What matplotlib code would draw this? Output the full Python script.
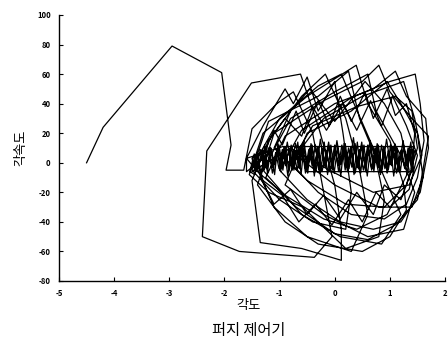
import matplotlib
matplotlib.use("Agg")
import matplotlib.pyplot as plt

plt.rcParams['font.family'] = ['Noto Sans CJK KR', 'DejaVu Sans']

# Transient from the initial state
angle_transient = [-4.5, -4.2, -2.95, -2.05, -1.88, -1.97, -1.65, -1.5, -1.05, -0.75, -0.4, -0.2,
                   -0.05, -0.37, -1.73, -2.4, -2.32, -1.51, -0.62, -0.3, 0.0, 0.12, 0.12, -0.6,
                   -1.35, -1.5, -1.2, -0.6, -0.17, 0.2, 0.45, 0.6, 0.3, -0.5, -1.1, -1.45]
rate_transient = [0, 24, 79, 61, 12, -5, -5, 23, 40, 48, 20, -20,
                  -50, -64, -60, -50, 8, 54, 60, 25, -15, -45, -66, -58,
                  -54, -12, 15, 45, 60, 30, -5, -35, -60, -50, -30, 0]

# Large limit-cycle-like loops
angle_loops = [-1.0, -0.3, 0.12, 0.35, 0.7, 0.9, 0.8, 0.2, -0.58, -1.2, -1.55, -1.3, -0.5, 0.39,
               0.6, 1.0, 1.25, 1.3, 1.0, 0.5, -0.3, -0.9, -1.4, -1.1, -0.2, 0.5, 0.8, 1.0,
               1.4, 1.7, 1.6, 1.5, 1.1, 0.6, 0.0, -0.7, -1.25, -0.9, 0.0, 0.7, 1.1, 1.3,
               1.65, 1.7, 1.55, 1.2, 0.7, 0.1, -0.5, -1.0, -0.6, 0.3, 1.0, 1.46, 1.55, 1.62,
               1.5, 1.3, 0.9, 0.3, -0.3, -0.8, -0.4, 0.4, 1.1, 1.4, 1.5, 1.3, 0.9, 0.2,
               -0.5, -1.1, -0.8, -0.45, 0.0, 0.55, 0.9, 1.2, 1.35, 0.95, 0.4, -0.2, -0.9, -1.4,
               -1.6, -1.3, -0.9, -0.75, -0.5, -0.3, 0.0, 0.15, 0.3, 0.2, -0.4, -1.0, -1.5, -1.2,
               -0.3, 0.25, 0.45, 0.9, 1.2, 0.85, 0.1, -0.6, -1.3, -0.8, 0.0, 0.6, 0.75, 1.2,
               1.45, 1.25, 0.6, -0.2, -0.9, -0.5, 0.3, 0.95, 1.2, 1.5, 1.6, 1.4, 0.8, 0.0,
               -0.7, -0.2, 0.5, 1.25, 1.45, 1.58, 1.35, 0.7, -0.1, -0.8, -1.5]
rate_loops = [30, 52, 60, 40, 10, -25, -50, -58, -30, -20, -8, 20, 45, 66,
              40, 15, -15, -32, -50, -60, -55, -40, -15, 20, 42, 55, 66, 48,
              30, 18, -5, -25, -42, -52, -48, -30, -10, 18, 40, 50, 62, 45,
              30, 10, -20, -40, -45, -40, -25, -5, 22, 44, 55, 60, 40, 15,
              -10, -28, -38, -35, -20, 0, 25, 38, 45, 35, 10, -15, -30, -28,
              -12, 10, 35, 50, 28, 55, 40, 20, -5, -35, -45, -38, -22, -6,
              3, 25, 50, 40, 58, 35, 55, 20, -20, -45, -40, -25, -5, 28,
              45, 62, 30, -10, -35, -55, -50, -35, -5, 30, 48, 60, 35, 5,
              -20, -45, -50, -35, -15, 20, 35, 55, 40, 20, -10, -30, -30, -15,
              5, 30, 45, 55, 30, 5, -15, -20, -5, 10, -6]

# Medium jagged loops
angle_mid = [-1.4, -1.1, -0.95, -0.7, -0.55, -0.3, -0.1, 0.1, 0.3, 0.55, 0.7, 0.95, 1.1, 1.3,
             1.45, 1.4, 1.2, 0.9, 0.7, 0.4, 0.1, -0.2, -0.5, -0.8, -1.1, -1.35, -1.2, -0.9,
             -0.6, -0.4, -0.15, 0.15, 0.4, 0.65, 0.85, 1.05, 1.3, 1.5, 1.35, 1.0, 0.75, 0.5,
             0.25, -0.05, -0.35, -0.65, -0.95, -1.3, -1.45]
rate_mid = [-3, 22, 12, 35, 20, 42, 25, 45, 28, 48, 30, 50, 32, 40,
            20, -5, -25, -15, -35, -20, -38, -22, -35, -18, -28, -10, 15, 30,
            18, 38, 22, 40, 22, 42, 25, 45, 25, 5, -18, -30, -20, -40,
            -25, -42, -28, -40, -22, -12, 5]

# Dense chattering band around the origin
angle_core = [-1.50, -1.43, -1.35, -1.28, -1.20, -1.13, -1.05, -0.98, -0.90, -0.83,
              -0.75, -0.68, -0.60, -0.53, -0.45, -0.38, -0.30, -0.23, -0.15, -0.08,
              0.00, 0.07, 0.15, 0.22, 0.30, 0.37, 0.45, 0.52, 0.60, 0.67,
              0.75, 0.82, 0.90, 0.97, 1.05, 1.12, 1.20, 1.27, 1.35, 1.42,
              1.38, 1.31, 1.24, 1.16, 1.09, 1.01, 0.94, 0.86, 0.79, 0.71,
              0.64, 0.56, 0.49, 0.41, 0.34, 0.26, 0.19, 0.11, 0.04, -0.04,
              -0.11, -0.19, -0.26, -0.34, -0.41, -0.49, -0.56, -0.64, -0.71, -0.79,
              -0.86, -0.94, -1.01, -1.09, -1.16, -1.24, -1.31, -1.39, -1.46, -1.54,
              -1.45, -1.40, -1.33, -1.27, -1.22, -1.16, -1.09, -1.03, -0.98, -0.92,
              -0.85, -0.79, -0.74, -0.67, -0.61, -0.56, -0.49, -0.43, -0.37, -0.31,
              -0.25, -0.19, -0.13, -0.07, -0.01, 0.05, 0.11, 0.17, 0.23, 0.29,
              0.35, 0.41, 0.47, 0.53, 0.59, 0.65, 0.71, 0.77, 0.83, 0.89,
              0.95, 1.01, 1.07, 1.13, 1.19, 1.25, 1.31, 1.37,
              1.45, 1.39, 1.33, 1.27, 1.21, 1.15, 1.09, 1.03, 0.97, 0.91,
              0.85, 0.79, 0.73, 0.67, 0.61, 0.55, 0.49, 0.43, 0.37, 0.31,
              0.25, 0.19, 0.13, 0.07, 0.01, -0.05, -0.11, -0.17, -0.23, -0.29,
              -0.35, -0.41, -0.47, -0.53, -0.59, -0.65, -0.71, -0.77, -0.83, -0.89,
              -0.95, -1.01, -1.07, -1.13, -1.19,
              -1.6, -1.6, -0.94, 1.42, 1.42, -0.5]
rate_core = [3, -6, 9, -5, 10, -7, 8, -4, 11, -6,
             9, -5, 12, -7, 10, -4, 11, -6, 8, -5,
             12, -6, 10, -3, 11, -7, 9, -5, 12, -4,
             10, -6, 9, -5, 11, -7, 8, -4, 10, -6,
             14, -2, 15, -4, 13, -1, 16, -5, 12, -2,
             15, -6, 14, -3, 17, -4, 13, -1, 15, -5,
             14, -2, 16, -6, 12, -3, 15, -4, 13, -2,
             14, -5, 12, -1, 10, -4, 9, -3, 6, -6,
             -8, 7, -9, 12, -7, 10, -8, 13, -6, 11,
             -9, 12, -5, 14, -8, 10, -7, 13, -9, 11,
             -6, 14, -8, 12, -7, 10, -9, 13, -6, 11,
             -8, 14, -7, 12, -9, 10, -6, 13, -8, 11,
             -7, 12, -9, 10, -6, 11, -8, 9,
             8, -4, 10, -3, 9, -5, 11, -2, 8, -4,
             12, -3, 10, -5, 9, -2, 11, -4, 13, -3,
             10, -5, 12, -2, 9, -4, 11, -3, 10, -5,
             12, -2, 9, -4, 11, -3, 8, -5, 10, -2,
             9, -4, 7, -3, 6,
             -6, 3, 11, 11, -6, -6]

x_ticks = [-5, -4, -3, -2, -1, 0, 1, 2]
x_tick_labels = ['-5', '-4', '-3', '-2', '-1', '0', '1', '2']
y_ticks = [-80, -60, -40, -20, 0, 20, 40, 60, 80, 100]
y_tick_labels = ['-80', '-60', '-40', '-20', '0', '20', '40', '60', '80', '100']

angle = angle_transient + angle_loops + angle_mid + angle_core
rate = rate_transient + rate_loops + rate_mid + rate_core

fig = plt.figure(figsize=(4.48, 3.44), dpi=100)
ax = fig.add_axes([59/448, 1 - 281/344, (445 - 59)/448, (281 - 15)/344])
ax.plot(angle, rate, color='black', linewidth=0.9)
ax.set_xlim(-5, 2)
ax.set_ylim(-80, 100)
ax.set_xticks(x_ticks)
ax.set_xticklabels(x_tick_labels)
ax.set_yticks(y_ticks)
ax.set_yticklabels(y_tick_labels)
ax.tick_params(direction='in', length=3, width=0.8, labelsize=5.5, pad=6)
for lab in ax.get_xticklabels() + ax.get_yticklabels():
    lab.set_fontweight('bold')
ax.spines['top'].set_visible(False)
ax.spines['right'].set_visible(False)
ax.spines['left'].set_linewidth(1.0)
ax.spines['bottom'].set_linewidth(1.0)
ax.set_ylabel('각속도', fontsize=9.5, labelpad=7)
fig.text(249/448, 1 - 305/344, '각도', ha='center', va='center', fontsize=9.5)
fig.text(249/448, 1 - 330/344, '퍼지 제어기', ha='center', va='center', fontsize=11)

fig.savefig('out.png', dpi=100)
